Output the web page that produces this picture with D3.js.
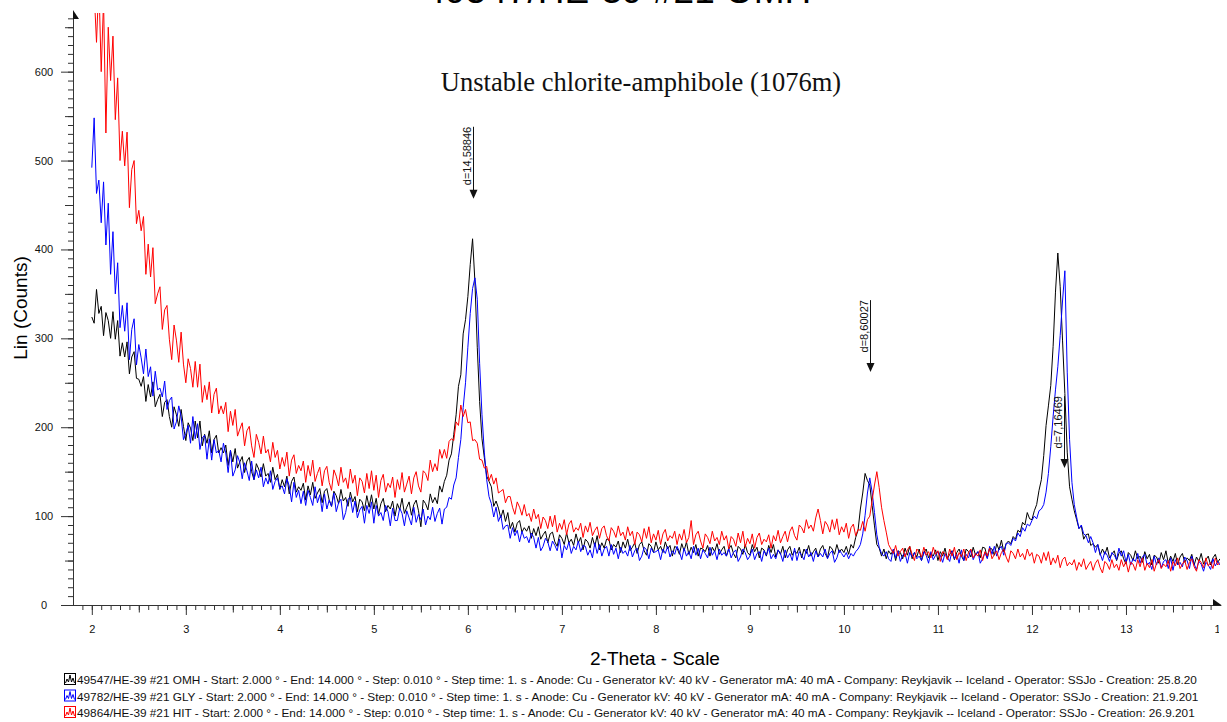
<!DOCTYPE html>
<html>
<head>
<meta charset="utf-8">
<script src="https://cdn.jsdelivr.net/npm/d3@7"></script>
<style>
  body { margin: 0; background: #fff; }
  svg { display: block; font-family: Arial, "Liberation Sans", sans-serif; }
</style>
</head>
<body>
<svg id="chart" width="1227" height="722"></svg>
<script>
// values every 0.025 deg, starting at 2.000 deg
let scanStart = 2.0
let readStep = 0.025

let sampleIds = ["49547", "49782", "49864"]
let sampleTypes = ["OMH", "GLY", "HIT"]
let creationDates = ["25.8.20", "21.9.201", "26.9.201"]
let seriesColors = ["#000000", "#0000ff", "#ff0000"]

let omh = [
  324, 317, 355, 328, 336, 303, 329, 320, 300, 330,
  299, 320, 280, 295, 279, 296, 260, 279, 285, 255,
  254, 246, 257, 229, 248, 234, 251, 223, 231, 237,
  212, 228, 231, 212, 200, 223, 214, 201, 220, 201,
  185, 205, 199, 185, 207, 188, 207, 179, 192, 182,
  196, 171, 186, 191, 171, 177, 171, 180, 157, 174,
  161, 176, 154, 161, 167, 149, 162, 166, 150, 141,
  159, 153, 144, 159, 145, 148, 138, 155, 141, 147,
  130, 141, 133, 145, 125, 139, 144, 127, 133, 129,
  137, 118, 134, 124, 138, 120, 126, 131, 115, 128,
  131, 118, 111, 128, 123, 114, 130, 117, 121, 111,
  127, 116, 122, 105, 119, 116, 106, 123, 110, 124,
  108, 120, 102, 114, 120, 105, 112, 108, 117, 100,
  114, 107, 120, 103, 110, 116, 101, 113, 118, 106,
  88, 118, 114, 107, 125, 115, 121, 114, 134, 127,
  139, 146, 163, 170, 192, 214, 246, 259, 305, 321,
  347, 383, 412, 364, 290, 229, 187, 166, 145, 139,
  133, 111, 117, 109, 98, 107, 94, 104, 86, 93,
  82, 92, 95, 82, 87, 83, 89, 75, 86, 78,
  88, 74, 79, 83, 70, 80, 82, 71, 66, 79,
  75, 68, 81, 70, 74, 67, 80, 70, 76, 62,
  74, 71, 64, 76, 66, 78, 62, 70, 64, 74,
  74, 62, 68, 65, 72, 59, 71, 64, 74, 61,
  65, 70, 58, 68, 71, 61, 56, 69, 66, 59,
  71, 62, 66, 59, 71, 63, 67, 55, 66, 64,
  57, 69, 61, 71, 57, 65, 59, 68, 55, 64,
  63, 60, 67, 55, 65, 60, 69, 57, 62, 66,
  55, 63, 67, 58, 53, 66, 63, 57, 68, 59,
  56, 68, 60, 65, 53, 64, 62, 55, 67, 59,
  68, 54, 62, 57, 66, 53, 62, 66, 56, 61,
  58, 65, 53, 63, 58, 67, 55, 60, 64, 54,
  63, 67, 58, 53, 66, 63, 57, 68, 59, 63,
  59, 66, 57, 68, 64, 76, 84, 108, 126, 148,
  140, 135, 112, 89, 68, 64, 55, 63, 52, 61,
  57, 62, 50, 61, 59, 52, 64, 56, 66, 52,
  59, 54, 63, 50, 59, 63, 53, 58, 55, 62,
  50, 60, 55, 64, 52, 57, 61, 51, 59, 63,
  55, 50, 63, 60, 54, 65, 56, 60, 53, 65,
  64, 53, 64, 63, 56, 69, 62, 73, 60, 69,
  72, 69, 77, 74, 84, 82, 93, 90, 104, 97,
  96, 106, 113, 129, 141, 168, 202, 224, 247, 291,
  352, 396, 358, 298, 238, 172, 133, 119, 106, 96,
  86, 89, 74, 79, 80, 67, 69, 65, 68, 56,
  63, 57, 65, 53, 57, 61, 50, 58, 61, 52,
  46, 59, 56, 50, 61, 52, 55, 48, 60, 52,
  57, 45, 56, 54, 47, 59, 51, 61, 47, 55,
  49, 58, 45, 54, 58, 48, 53, 50, 57, 45,
  54, 49, 58, 46, 51, 55, 45, 53, 57, 48,
  52
]

let gly = [
  492, 548, 463, 478, 430, 476, 405, 452, 372, 420,
  350, 385, 312, 337, 308, 340, 276, 310, 322, 270,
  293, 278, 260, 288, 257, 268, 235, 263, 242, 244,
  234, 252, 220, 230, 234, 198, 206, 224, 212, 186,
  193, 202, 182, 212, 187, 204, 175, 188, 191, 164,
  187, 163, 186, 171, 174, 161, 182, 171, 149, 174,
  145, 152, 168, 160, 142, 160, 151, 140, 162, 141,
  152, 143, 155, 133, 143, 136, 151, 130, 139, 143,
  131, 134, 125, 142, 134, 116, 138, 121, 129, 114,
  128, 112, 129, 121, 112, 133, 115, 124, 105, 125,
  108, 118, 111, 126, 105, 115, 119, 96, 104, 119,
  121, 104, 117, 98, 107, 111, 92, 112, 103, 116,
  92, 112, 100, 104, 95, 112, 105, 89, 109, 95,
  95, 109, 103, 89, 106, 98, 90, 110, 93, 102,
  96, 108, 90, 100, 96, 110, 94, 103, 109, 91,
  108, 110, 121, 119, 135, 143, 166, 186, 222, 250,
  290, 328, 356, 368, 344, 272, 214, 172, 141, 122,
  114, 99, 110, 94, 101, 85, 89, 90, 75, 87,
  78, 84, 71, 83, 75, 77, 70, 81, 76, 64,
  76, 61, 66, 75, 71, 61, 72, 67, 61, 74,
  53, 67, 62, 71, 58, 66, 62, 72, 60, 67,
  66, 56, 62, 53, 70, 58, 68, 55, 63, 66,
  55, 68, 57, 64, 52, 65, 58, 61, 55, 67,
  54, 61, 64, 50, 55, 65, 62, 52, 64, 59,
  60, 62, 51, 63, 58, 66, 54, 61, 57, 66,
  60, 51, 64, 55, 60, 52, 66, 56, 64, 52,
  62, 58, 53, 65, 56, 61, 51, 63, 56, 59,
  55, 64, 53, 59, 62, 49, 54, 63, 59, 51,
  55, 63, 51, 58, 60, 49, 61, 56, 64, 52,
  57, 52, 62, 58, 49, 62, 53, 58, 50, 64,
  50, 60, 56, 51, 63, 54, 59, 49, 61, 54,
  58, 54, 63, 52, 58, 61, 48, 53, 62, 58,
  54, 59, 52, 58, 55, 60, 63, 68, 80, 101,
  126, 143, 127, 104, 79, 65, 58, 55, 60, 52,
  49, 63, 53, 61, 49, 56, 58, 47, 59, 54,
  59, 52, 55, 50, 60, 56, 47, 60, 51, 56,
  60, 56, 48, 58, 54, 49, 61, 52, 57, 47,
  62, 50, 57, 53, 62, 51, 57, 60, 47, 52,
  59, 52, 66, 57, 66, 55, 63, 66, 56, 69,
  70, 67, 75, 72, 81, 77, 87, 83, 91, 89,
  95, 100, 97, 106, 108, 113, 127, 148, 178, 212,
  242, 268, 303, 342, 376, 262, 186, 138, 113, 99,
  86, 90, 80, 78, 70, 77, 70, 59, 68, 58,
  50, 60, 56, 49, 59, 56, 51, 64, 55, 61,
  48, 57, 45, 52, 49, 58, 47, 54, 57, 45,
  48, 40, 55, 45, 53, 42, 49, 51, 41, 53,
  39, 51, 45, 48, 43, 54, 50, 41, 55, 46,
  40, 49, 46, 38, 48, 45, 40, 52, 44, 49,
  45
]

let hit = [
  710, 690, 633, 700, 600, 680, 531, 650, 590, 640,
  546, 593, 500, 533, 494, 532, 447, 490, 500, 429,
  444, 421, 437, 372, 406, 369, 402, 339, 350, 358,
  310, 332, 337, 299, 276, 315, 298, 273, 307, 271,
  250, 277, 266, 245, 274, 245, 271, 228, 247, 231,
  251, 216, 237, 244, 215, 224, 215, 228, 195, 218,
  202, 220, 190, 198, 205, 179, 196, 201, 179, 166,
  192, 183, 170, 190, 171, 175, 161, 183, 166, 174,
  153, 166, 156, 172, 145, 163, 169, 148, 157, 151,
  162, 138, 157, 145, 163, 139, 148, 155, 134, 151,
  156, 138, 129, 152, 145, 134, 155, 138, 143, 131,
  153, 137, 146, 123, 143, 139, 126, 148, 131, 151,
  129, 146, 121, 140, 147, 127, 137, 132, 144, 121,
  141, 130, 149, 127, 136, 145, 125, 143, 150, 134,
  127, 151, 148, 140, 163, 150, 159, 151, 175, 165,
  175, 165, 184, 187, 185, 206, 202, 225, 212, 220,
  205, 206, 185, 186, 182, 164, 163, 154, 156, 140,
  147, 136, 143, 126, 128, 130, 115, 122, 122, 110,
  102, 116, 110, 101, 113, 100, 103, 94, 108, 97,
  102, 86, 99, 95, 86, 100, 88, 101, 82, 92,
  85, 96, 79, 91, 95, 82, 87, 84, 92, 76,
  89, 82, 93, 78, 84, 88, 75, 86, 89, 78,
  72, 87, 83, 76, 89, 78, 82, 73, 88, 78,
  83, 68, 82, 79, 71, 86, 75, 88, 70, 80,
  73, 84, 68, 80, 85, 72, 78, 75, 83, 68,
  80, 73, 85, 70, 76, 95, 68, 79, 83, 72,
  64, 80, 76, 69, 83, 72, 76, 68, 83, 73,
  78, 63, 77, 74, 66, 81, 70, 83, 65, 75,
  69, 80, 64, 76, 81, 68, 74, 71, 79, 64,
  78, 72, 84, 70, 77, 83, 71, 83, 88, 78,
  73, 90, 87, 81, 96, 86, 90, 83, 98, 108,
  95, 80, 94, 90, 82, 96, 85, 97, 79, 88,
  82, 92, 75, 87, 91, 78, 85, 84, 94, 83,
  96, 100, 118, 135, 150, 132, 110, 95, 82, 68,
  63, 58, 67, 55, 60, 64, 54, 62, 66, 57,
  50, 63, 60, 54, 65, 56, 60, 53, 65, 57,
  61, 49, 60, 58, 51, 63, 55, 65, 51, 59,
  54, 63, 50, 59, 63, 53, 58, 55, 62, 50,
  60, 55, 64, 52, 57, 61, 51, 59, 63, 54,
  48, 61, 58, 52, 63, 54, 58, 51, 63, 55,
  59, 47, 57, 55, 47, 59, 50, 60, 45, 53,
  47, 56, 42, 51, 54, 44, 48, 45, 51, 39,
  48, 43, 52, 40, 45, 49, 39, 47, 51, 42,
  36, 49, 46, 40, 51, 42, 46, 39, 51, 43,
  49, 37, 48, 46, 39, 51, 43, 53, 39, 47,
  42, 51, 38, 47, 51, 41, 46, 43, 50, 38,
  49, 44, 53, 41, 46, 50, 40, 48, 52, 43,
  38, 51, 48, 42, 53, 44, 48, 41, 53, 45,
  48
]

// d-spacing markers
let peakLabels = ["d=14,58846", "d=8,60027", "d=7,16469"]
let peakTheta = [6.054, 10.277, 12.344]
let peakCounts = [457, 262, 154]

let xTickLabels = [2, 3, 4, 5, 6, 7, 8, 9, 10, 11, 12, 13, 14]
let yTickLabels = [0, 100, 200, 300, 400, 500, 600]

let chartTitle = "49547/HE-39 #21 OMH"
let subTitle = "Unstable chlorite-amphibole (1076m)"

let svg = d3.select("#chart")
let plotLeft = 73, plotRight = 1220, plotTop = 13, plotBottom = 605

let x = d3.scaleLinear().domain([1.8, 14]).range([plotLeft, plotRight])
let y = d3.scaleLinear().domain([0, 666]).range([plotBottom, plotTop])

// big title, mostly cut off by the top edge
svg.append("text")
    .attr("x", 618).attr("y", 3)
    .attr("text-anchor", "middle")
    .style("font-size", "37px")
    .text(chartTitle)

svg.append("text")
    .attr("x", 641).attr("y", 91)
    .attr("text-anchor", "middle")
    .style("font-family", "'Liberation Serif', 'Times New Roman', serif")
    .style("font-size", "26.5px")
    .attr("fill", "#111")
    .text(subTitle)

// Y axis: minor / half / major ticks
function plainAxis(g) {
    g.attr("font-family", null).attr("font-size", null).attr("color", "#333")
    g.select(".domain").remove()
}
let yg = svg.append("g").attr("transform", "translate(" + plotLeft + ",0)")
yg.append("g").call(d3.axisLeft(y).tickValues(d3.range(0, 661, 10)).tickSize(5).tickFormat("")).call(plainAxis)
yg.append("g").call(d3.axisLeft(y).tickValues(d3.range(50, 661, 100)).tickSize(8).tickFormat("")).call(plainAxis)
yg.append("g").call(d3.axisLeft(y).tickValues(yTickLabels).tickSize(12)).call(plainAxis)
    .selectAll("text")
        .attr("x", -29)
        .attr("text-anchor", "middle")
        .style("font-size", "11px")
        .attr("fill", "#111")

// X axis
let xg = svg.append("g").attr("transform", "translate(0," + plotBottom + ")")
xg.append("g").call(d3.axisBottom(x).tickValues(d3.range(19, 140).map(d => d / 10)).tickSize(5).tickFormat("")).call(plainAxis)
xg.append("g").call(d3.axisBottom(x).tickValues(d3.range(25, 136, 10).map(d => d / 10)).tickSize(7.5).tickFormat("")).call(plainAxis)

svg.append("clipPath").attr("id", "labelclip")
    .append("rect").attr("x", 0).attr("y", -20).attr("width", 1219).attr("height", 60)
xg.append("g").attr("clip-path", "url(#labelclip)")
    .call(d3.axisBottom(x).tickValues(xTickLabels).tickSize(10)).call(plainAxis)
    .selectAll("text")
        .attr("y", 20)
        .style("font-size", "11px")
        .attr("fill", "#111")

// axis lines with their half arrow heads
svg.append("path")
    .attr("d", "M63," + (plotBottom + 0.5) + "H1221M" + (plotLeft + 0.5) + "," + (plotBottom + 0.5) + "V12")
    .attr("fill", "none").attr("stroke", "#333").attr("stroke-width", 1)
svg.append("path").attr("d", "M1213,599L1222,605.5L1213,605.5Z").attr("fill", "#111")
svg.append("path").attr("d", "M73,10L79,19L73,19Z").attr("fill", "#111")

svg.append("text")
    .attr("transform", "translate(27,308)rotate(-90)")
    .attr("text-anchor", "middle")
    .style("font-size", "19px")
    .text("Lin (Counts)")

svg.append("text")
    .attr("x", 655).attr("y", 665)
    .attr("text-anchor", "middle")
    .style("font-size", "19px")
    .text("2-Theta - Scale")

// scans
svg.append("clipPath").attr("id", "plotclip")
    .append("rect").attr("x", plotLeft).attr("y", plotTop)
    .attr("width", plotRight - plotLeft).attr("height", plotBottom - plotTop)

let line = d3.line()
    .x((d, i) => x(scanStart + i * readStep))
    .y(d => y(d))

let plot = svg.append("g").attr("clip-path", "url(#plotclip)")
let allSeries = [omh, gly, hit]
for (let s = 0; s < allSeries.length; s++) {
    plot.append("path")
        .datum(allSeries[s])
        .attr("d", line)
        .attr("fill", "none")
        .attr("stroke", seriesColors[s])
        .attr("stroke-width", 1)
}

// peak markers
for (let i = 0; i < peakLabels.length; i++) {
    let px = Math.round(x(peakTheta[i])) + 0.5
    let py = y(peakCounts[i])
    let g = svg.append("g")
    g.append("line")
        .attr("x1", px).attr("x2", px)
        .attr("y1", py - 72).attr("y2", py - 8)
        .attr("stroke", "#111").attr("stroke-width", 1)
    g.append("path")
        .attr("d", "M" + (px - 4) + "," + (py - 9) + "L" + (px + 4) + "," + (py - 9) + "L" + px + "," + py + "Z")
        .attr("fill", "#111")
    g.append("text")
        .attr("transform", "translate(" + (px - 2.5) + "," + (py - 72) + ")rotate(-90)")
        .attr("text-anchor", "end")
        .style("font-size", "11px")
        .attr("fill", "#111")
        .text(peakLabels[i])
}

// legend
for (let i = 0; i < sampleIds.length; i++) {
    let ty = 673 + i * 16.5
    let g = svg.append("g").attr("transform", "translate(64," + ty + ")")
    g.append("rect")
        .attr("x", 0.5).attr("y", 0.5).attr("width", 11).attr("height", 11)
        .attr("fill", "#fff").attr("stroke", seriesColors[i])
    g.append("polyline")
        .attr("points", "1.5,10 3,6 4.5,9 6,2 7.5,9 9,5 10.5,10")
        .attr("fill", "none").attr("stroke", seriesColors[i])
    svg.append("text")
        .attr("x", 77).attr("y", ty + 11)
        .style("font-size", "11.8px")
        .attr("fill", "#111")
        .text(sampleIds[i] + "/HE-39 #21 " + sampleTypes[i] + " - Start: 2.000 ° - End: 14.000 ° - Step: 0.010 ° - Step time: 1. s - Anode: Cu - Generator kV: 40 kV - Generator mA: 40 mA - Company: Reykjavik -- Iceland - Operator: SSJo - Creation: " + creationDates[i])
}
</script>
</body>
</html>
